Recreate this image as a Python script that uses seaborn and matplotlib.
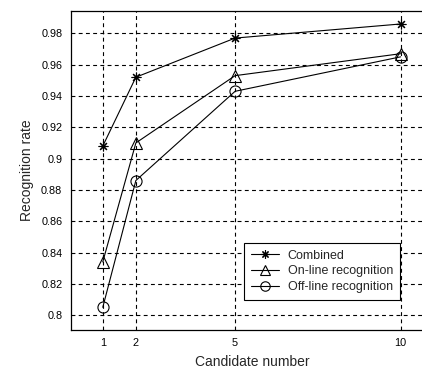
import pandas as pd
import seaborn as sns
import matplotlib.pyplot as plt

# values
candidates = [1, 2, 5, 10]
combined = [0.908, 0.952, 0.977, 0.986]
online = [0.834, 0.910, 0.953, 0.967]
offline = [0.805, 0.886, 0.943, 0.965]
series_names = ["Combined", "On-line recognition", "Off-line recognition"]
yticks = [0.80, 0.82, 0.84, 0.86, 0.88, 0.90, 0.92, 0.94, 0.96, 0.98]
ytick_labels = ["0.8", "0.82", "0.84", "0.86", "0.88", "0.9", "0.92", "0.94", "0.96", "0.98"]

sns.set_style("white")
plt.rcParams["font.family"] = ["Liberation Sans", "DejaVu Sans"]

df = pd.DataFrame({
    "x": candidates * 3,
    "y": combined + online + offline,
    "series": [s for s in series_names for _ in candidates],
})

fig = plt.figure(figsize=(4.22, 3.69), dpi=100)
ax = fig.add_axes([0.1675, 0.1057, 0.86, 0.8645])

markers = {"Combined": (8, 2, 0), "On-line recognition": "^", "Off-line recognition": "o"}
sizes = {"Combined": 7, "On-line recognition": 8, "Off-line recognition": 8}
for name in series_names:
    sub = df[df.series == name]
    sns.lineplot(data=sub, x="x", y="y", ax=ax, color="black", lw=0.8,
                 marker=markers[name], markersize=sizes[name],
                 markerfacecolor="none", markeredgecolor="black",
                 markeredgewidth=0.8, label=name)

ax.set_xlim(0.03, 11)
ax.set_ylim(0.7905, 0.9943)
ax.set_xticks(candidates)
ax.set_xticklabels([str(c) for c in candidates])
ax.set_yticks(yticks)
ax.set_yticklabels(ytick_labels)
ax.tick_params(direction="in", length=3, width=0.8, labelsize=7.8, colors="black", pad=6)
ax.grid(True, color="black", linestyle=(0, (3.5, 3)), linewidth=0.8)
for s in ax.spines.values():
    s.set_color("black")
    s.set_linewidth(0.9)

ax.set_xlabel("Candidate number", fontsize=10, labelpad=5)
ax.set_ylabel("Recognition rate", fontsize=10, labelpad=5)

leg = ax.legend(loc="lower right", bbox_to_anchor=(0.907, 0.094), fontsize=9,
                frameon=True, fancybox=False, framealpha=1, edgecolor="black",
                handlelength=2.2, handletextpad=0.7, borderpad=0.55,
                labelspacing=0.3, markerscale=0.85, borderaxespad=0)
leg.get_frame().set_linewidth(0.8)

fig.savefig("out.png", dpi=100)
